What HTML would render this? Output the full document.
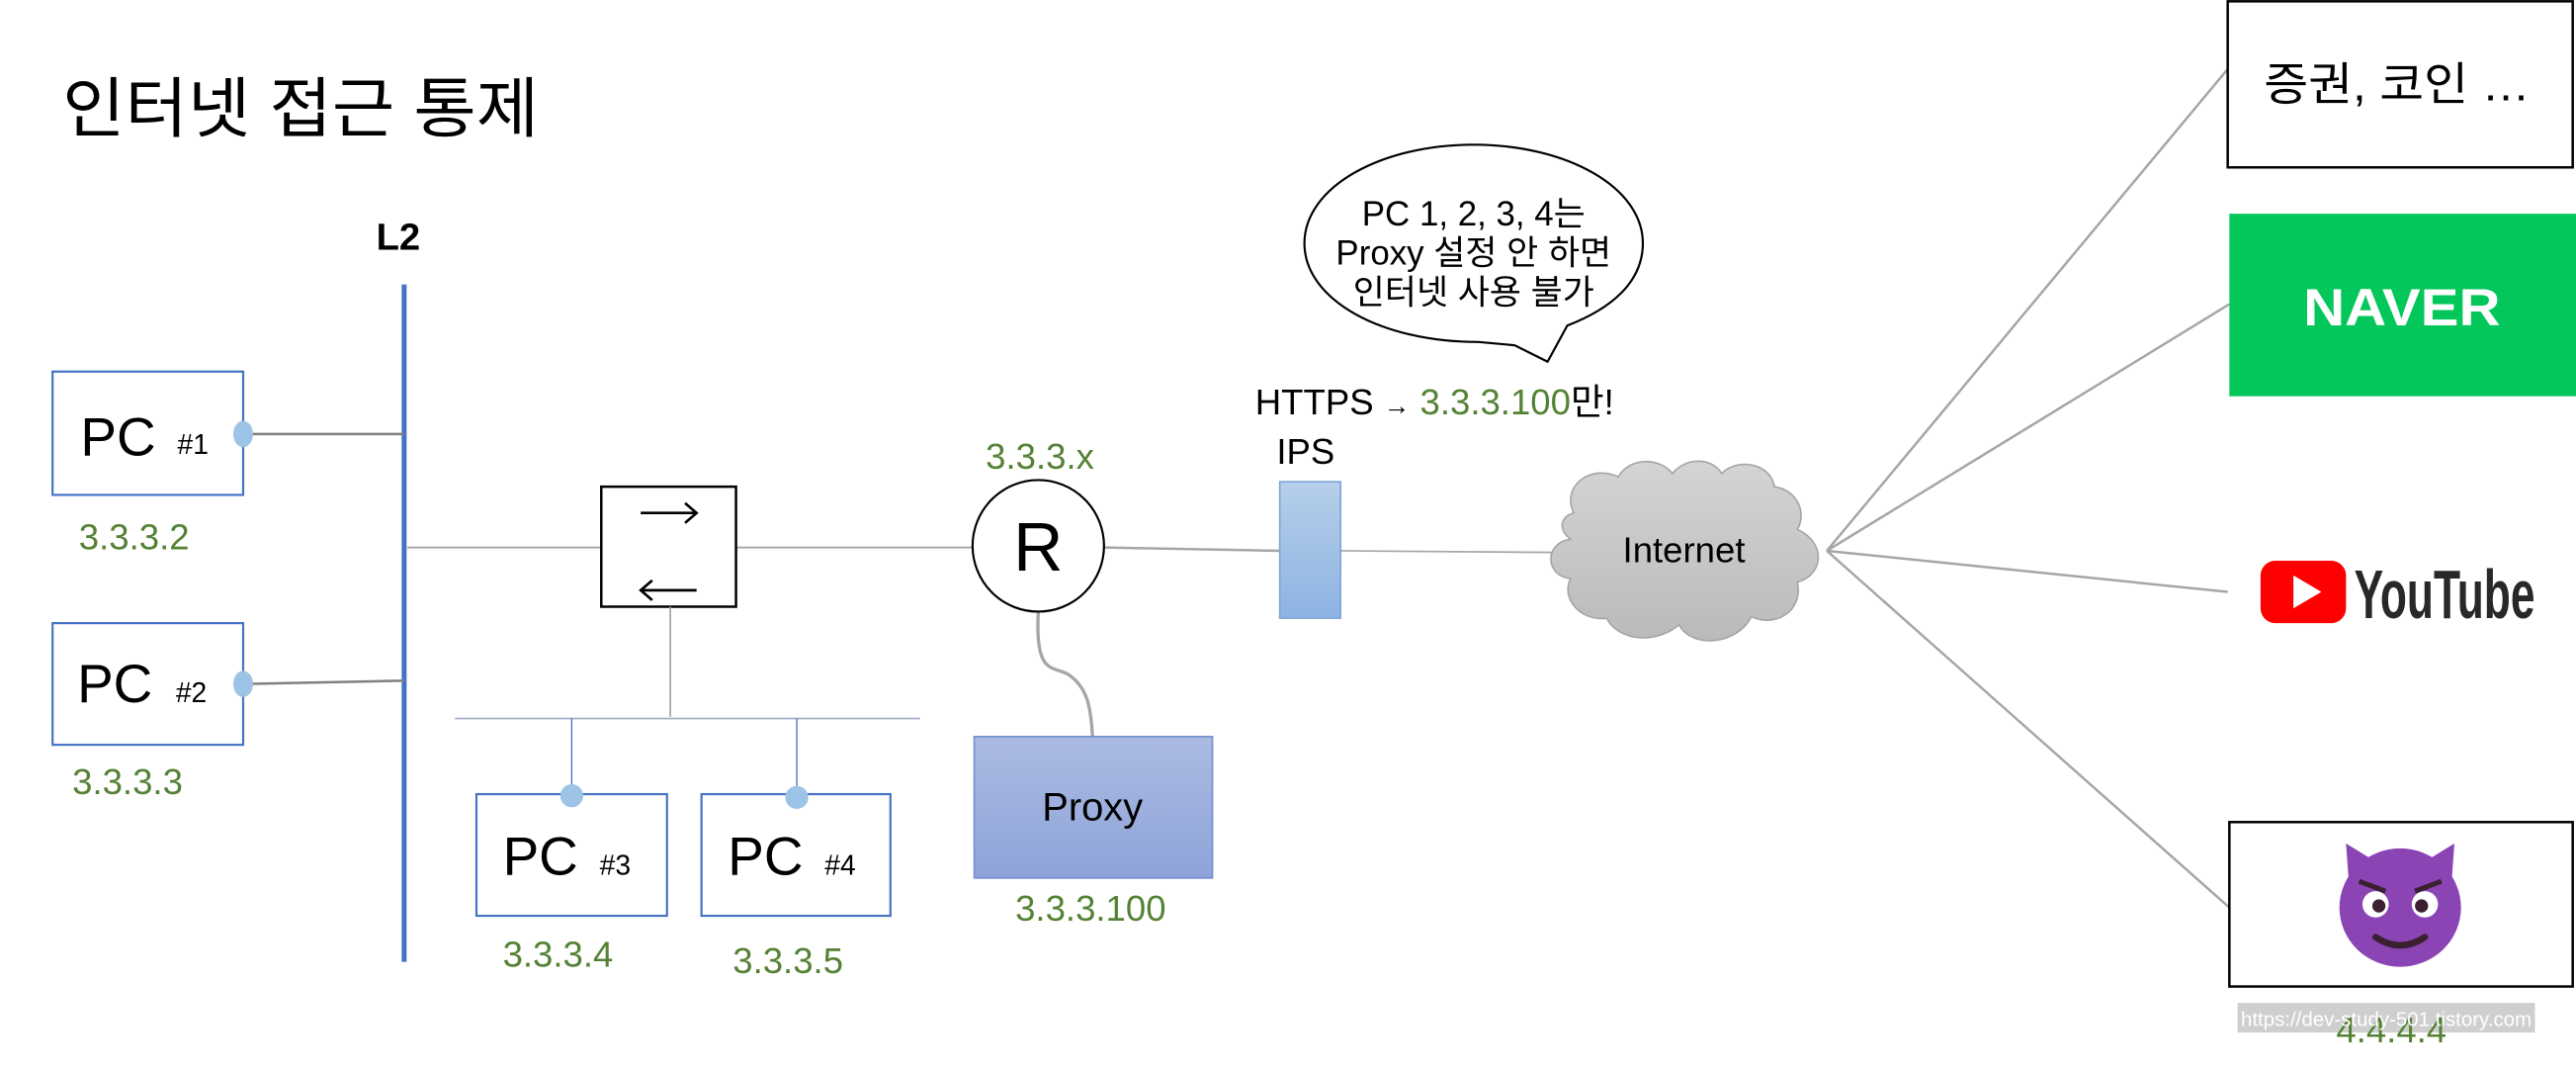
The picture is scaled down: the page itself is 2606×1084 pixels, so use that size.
<!DOCTYPE html>
<html><head><meta charset="utf-8"><style>
html,body{margin:0;padding:0;background:#fff;}
svg{display:block;}
text{font-family:"Liberation Sans","Noto Sans CJK KR","NanumGothic",sans-serif;}
</style></head><body>
<svg width="2606" height="1084" viewBox="0 0 1568 652" preserveAspectRatio="none" xmlns="http://www.w3.org/2000/svg">
<defs>
<linearGradient id="gp" x1="0" y1="0" x2="0" y2="1"><stop offset="0" stop-color="#abbbe2"/><stop offset="1" stop-color="#8ea4d9"/></linearGradient>
<linearGradient id="gi" x1="0" y1="0" x2="0" y2="1"><stop offset="0" stop-color="#b6cfea"/><stop offset="1" stop-color="#8db3e2"/></linearGradient>
<linearGradient id="gc" x1="0" y1="0" x2="0" y2="1"><stop offset="0" stop-color="#d4d4d4"/><stop offset="1" stop-color="#bababa"/></linearGradient>
</defs>
<rect width="1568" height="652" fill="#fff"/>
<text x="38" y="80" font-size="40" textLength="290" lengthAdjust="spacingAndGlyphs">인터넷 접근 통제</text>
<text x="229" y="152" font-size="23" font-weight="bold">L2</text>
<line x1="246" y1="173" x2="246" y2="585" stroke="#4472c4" stroke-width="3"/>

<!-- PC1 -->
<line x1="150" y1="264" x2="246" y2="264" stroke="#808080" stroke-width="1.5"/>
<rect x="32" y="226" width="116" height="75" fill="#fff" stroke="#4472c4" stroke-width="1.3"/>
<text x="49" y="277" font-size="33">PC</text><text x="108" y="276" font-size="17">#1</text>
<ellipse cx="148" cy="264" rx="6" ry="8" fill="#9dc3e6"/>
<text x="48" y="334" font-size="22" fill="#548235">3.3.3.2</text>
<!-- PC2 -->
<line x1="150" y1="416" x2="246" y2="414" stroke="#808080" stroke-width="1.5"/>
<rect x="32" y="379" width="116" height="74" fill="#fff" stroke="#4472c4" stroke-width="1.3"/>
<text x="47" y="427" font-size="33">PC</text><text x="107" y="427" font-size="17">#2</text>
<ellipse cx="148" cy="416" rx="6" ry="8" fill="#9dc3e6"/>
<text x="44" y="483" font-size="22" fill="#548235">3.3.3.3</text>

<!-- switch -->
<line x1="248" y1="333" x2="366" y2="333" stroke="#a0a0a0" stroke-width="1"/>
<line x1="448" y1="333" x2="592" y2="333" stroke="#a0a0a0" stroke-width="1"/>
<rect x="366" y="296" width="82" height="73" fill="#fff" stroke="#000" stroke-width="1.5"/>
<path d="M390 312 L424 312 M417 306 L424 312 L417 318" fill="none" stroke="#000" stroke-width="1.6"/>
<path d="M390 359 L424 359 M397 353 L390 359 L397 365" fill="none" stroke="#000" stroke-width="1.6"/>
<line x1="408" y1="369" x2="408" y2="436" stroke="#a0a0a0" stroke-width="1"/>
<line x1="277" y1="437" x2="560" y2="437" stroke="#a0a8c0" stroke-width="1"/>
<line x1="348" y1="437" x2="348" y2="483" stroke="#4472c4" stroke-width="0.8"/>
<line x1="485" y1="437" x2="485" y2="483" stroke="#4472c4" stroke-width="0.8"/>

<rect x="290" y="483" width="116" height="74" fill="#fff" stroke="#4472c4" stroke-width="1.3"/>
<text x="306" y="532" font-size="33">PC</text><text x="365" y="532" font-size="17">#3</text>
<ellipse cx="348" cy="484" rx="7" ry="7" fill="#9dc3e6"/>
<rect x="427" y="483" width="115" height="74" fill="#fff" stroke="#4472c4" stroke-width="1.3"/>
<text x="443" y="532" font-size="33">PC</text><text x="502" y="532" font-size="17">#4</text>
<ellipse cx="485" cy="485" rx="7" ry="7" fill="#9dc3e6"/>
<text x="306" y="588" font-size="22" fill="#548235">3.3.3.4</text>
<text x="446" y="592" font-size="22" fill="#548235">3.3.3.5</text>

<!-- router -->
<path d="M632 372 C630 410 640 405 650 410 C662 418 664 430 665 448" fill="none" stroke="#a6a6a6" stroke-width="2"/>
<line x1="672" y1="333" x2="779" y2="335" stroke="#a6a6a6" stroke-width="1.5"/>
<circle cx="632" cy="332" r="40" fill="#fff" stroke="#000" stroke-width="1.3"/>
<text x="632" y="347" font-size="42" text-anchor="middle">R</text>
<text x="600" y="285" font-size="22" fill="#548235">3.3.3.x</text>
<rect x="593" y="448" width="145" height="86" fill="url(#gp)" stroke="#7490d0" stroke-width="1"/>
<text x="665" y="499" font-size="24" text-anchor="middle">Proxy</text>
<text x="618" y="560" font-size="22" fill="#548235">3.3.3.100</text>

<!-- IPS -->
<text x="764" y="252" font-size="22">HTTPS <tspan font-size="16">→</tspan> <tspan fill="#548235">3.3.3.100</tspan>만!</text>
<text x="777" y="282" font-size="22">IPS</text>
<line x1="816" y1="335" x2="948" y2="336" stroke="#a6a6a6" stroke-width="1"/>
<rect x="779" y="293" width="37" height="83" fill="url(#gi)" stroke="#7fa6d8" stroke-width="1"/>

<!-- bubble -->
<path d="M900 208 C840 208 794 182 794 148 C794 114 840 88 897 88 C954 88 1000 114 1000 148 C1000 172 980 188 954 198 L942 220 L922 210 Z" fill="#fff" stroke="#000" stroke-width="1.3"/>
<text x="897" y="137" font-size="21" text-anchor="middle">PC 1, 2, 3, 4는</text>
<text x="897" y="161" font-size="21" text-anchor="middle">Proxy 설정 안 하면</text>
<text x="897" y="185" font-size="21" text-anchor="middle">인터넷 사용 불가</text>

<!-- lines to sites -->
<g stroke="#a6a6a6" stroke-width="1.5">
<line x1="1112" y1="335" x2="1356" y2="42"/>
<line x1="1112" y1="335" x2="1357" y2="185"/>
<line x1="1112" y1="335" x2="1356" y2="360"/>
<line x1="1112" y1="335" x2="1357" y2="552"/>
</g>

<!-- cloud -->
<path d="M958 312 C950 296 968 282 985 290 C992 278 1010 278 1018 288 C1026 278 1042 278 1048 288 C1058 278 1078 282 1080 296 C1094 298 1100 312 1094 322 C1112 330 1110 350 1094 354 C1098 372 1080 382 1066 375 C1058 392 1030 395 1022 380 C1008 392 985 390 978 376 C962 378 950 364 956 352 C940 350 940 330 956 328 C948 322 950 314 958 312 Z" fill="url(#gc)" stroke="#a6a6a6" stroke-width="1"/>
<text x="1025" y="342" font-size="22" text-anchor="middle">Internet</text>

<!-- sites -->
<rect x="1356" y="0.8" width="210" height="101" fill="#fff" stroke="#000" stroke-width="1.5"/>
<text x="1378" y="61" font-size="28" textLength="162" lengthAdjust="spacingAndGlyphs">증권, 코인 …</text>
<rect x="1357" y="130" width="211" height="111" fill="#03c75a"/>
<text x="1462" y="198" font-size="32" font-weight="bold" fill="#fff" text-anchor="middle" textLength="120" lengthAdjust="spacingAndGlyphs">NAVER</text>
<rect x="1376" y="341" width="52" height="38" rx="9" fill="#ff0000"/>
<polygon points="1396,350 1396,370 1413,360" fill="#fff"/>
<text x="1433" y="376" font-size="42" font-weight="bold" fill="#282828" textLength="110" lengthAdjust="spacingAndGlyphs">YouTube</text>

<rect x="1357" y="500" width="209" height="100" fill="#fff" stroke="#000" stroke-width="1.5"/>
<g>
<polygon points="1428,513 1430,540 1446,524" fill="#8a44b4"/>
<polygon points="1494,513 1492,540 1476,524" fill="#8a44b4"/>
<ellipse cx="1461" cy="552" rx="37" ry="36" fill="#8a44b4"/>
<ellipse cx="1446" cy="550" rx="8" ry="8" fill="#fff"/><circle cx="1448" cy="551" r="4" fill="#3a2030"/>
<ellipse cx="1476" cy="550" rx="8" ry="8" fill="#fff"/><circle cx="1474" cy="551" r="4" fill="#3a2030"/>
<path d="M1436 536 L1452 542 M1486 536 L1470 542" stroke="#3a2030" stroke-width="3"/>
<path d="M1446 570 Q1461 580 1476 570" stroke="#3a2030" stroke-width="4" fill="none" stroke-linecap="round"/>
</g>
<rect x="1362" y="610" width="181" height="18" fill="#cfcfcf"/>
<text x="1422" y="634" font-size="22" fill="#548235">4.4.4.4</text>
<text x="1364" y="624" font-size="12.5" fill="#fff" textLength="177" lengthAdjust="spacingAndGlyphs">https://dev-study-501.tistory.com</text>
</svg>
</body></html>
